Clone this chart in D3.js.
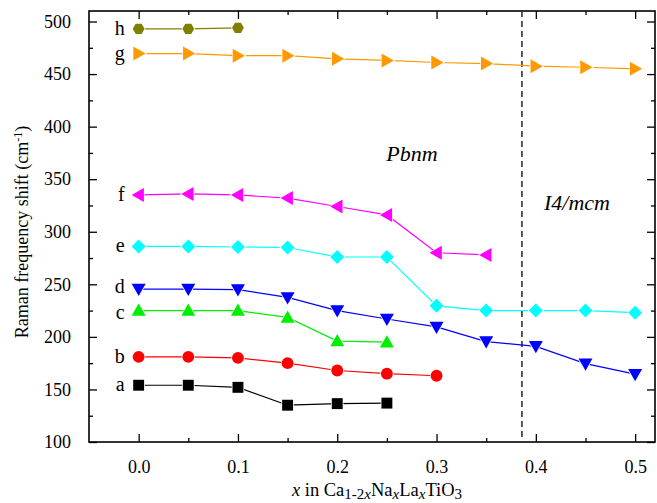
<!DOCTYPE html>
<html><head><meta charset="utf-8">
<script src="https://cdn.jsdelivr.net/npm/d3@7"></script>
<style>body{margin:0;background:#fff}svg{display:block}text{font-family:"Liberation Serif","Times New Roman",serif;fill:#000}</style>
</head><body><svg id="c" width="657" height="503"></svg>
<script>
const xs = [0, 0.05, 0.1, 0.15, 0.2, 0.25, 0.3, 0.35, 0.4, 0.45, 0.5];
const modeA = [154, 154, 152, 135, 136.5, 137];
const modeB = [181, 181, 180, 175, 168, 165, 163];
const modeC = [225, 225, 225, 218.5, 196, 195];
const modeD = [245.5, 245.5, 245, 237.5, 225, 217, 209.5, 195.5, 191, 174.5, 164.5];
const modeE = [286, 286, 285.5, 285, 276, 276, 229.5, 225, 225, 225, 223];
const modeF = [335, 336, 335, 332, 324, 316, 280, 278];
const modeG = [469.5, 469.5, 467.5, 467.5, 464.5, 463, 461, 460, 457.5, 456.5, 455];
const modeH = [493, 493, 494];
const seriesNames = ["a","b","c","d","e","f","g","h"];
const seriesValues = [modeA, modeB, modeC, modeD, modeE, modeF, modeG, modeH];
const seriesColors = ["#000000","#ff0000","#00ee00","#0000ff","#00ffff","#ff00ff","#ff9900","#808000"];
const seriesSymbols = ["square","circle","up","down","diamond","left","right","hexagon"];
const xTicks = [0, 0.1, 0.2, 0.3, 0.4, 0.5];
const yTicks = [100, 150, 200, 250, 300, 350, 400, 450, 500];
const phaseBoundary = 0.386;

const svg = d3.select("#c");
const L = 89, R = 655, T = 11, B = 442;
const x = d3.scaleLinear().domain([-0.05, 0.52]).range([L, R]);
const y = d3.scaleLinear().domain([100, 510]).range([B, T]);

svg.append("rect").attr("x", L).attr("y", T).attr("width", R - L).attr("height", B - T)
  .attr("fill", "none").attr("stroke", "#000").attr("stroke-width", 1.6);

const xMinor = d3.range(0, 0.5001, 0.05).filter(v => Math.abs(v*10 - Math.round(v*10)) > 0.01);
const yMinor = d3.range(125, 510, 50);

svg.append("g").attr("transform", `translate(0,${B})`)
  .call(d3.axisBottom(x).tickValues(xTicks).tickFormat(d3.format(".1f")).tickSize(-8).tickPadding(18));
svg.append("g").attr("transform", `translate(0,${B})`)
  .call(d3.axisBottom(x).tickValues(xMinor).tickFormat("").tickSize(-4));
svg.append("g").attr("transform", `translate(0,${T})`)
  .call(d3.axisTop(x).tickValues(xTicks).tickFormat("").tickSize(-8));
svg.append("g").attr("transform", `translate(0,${T})`)
  .call(d3.axisTop(x).tickValues(xMinor).tickFormat("").tickSize(-4));
svg.append("g").attr("transform", `translate(${L},0)`)
  .call(d3.axisLeft(y).tickValues(yTicks).tickSize(-8).tickPadding(18));
svg.append("g").attr("transform", `translate(${L},0)`)
  .call(d3.axisLeft(y).tickValues(yMinor).tickFormat("").tickSize(-4));
svg.append("g").attr("transform", `translate(${R},0)`)
  .call(d3.axisRight(y).tickValues(yTicks).tickFormat("").tickSize(-8));
svg.append("g").attr("transform", `translate(${R},0)`)
  .call(d3.axisRight(y).tickValues(yMinor).tickFormat("").tickSize(-4));

svg.selectAll(".domain").remove();
svg.selectAll("g").attr("font-family", null);
svg.selectAll(".tick line").attr("stroke", "#000").attr("stroke-width", 1.3);
svg.selectAll(".tick text").style("font-family", '"Liberation Serif",serif').style("font-size", "18px").attr("fill", "#000");

svg.append("line").attr("x1", x(phaseBoundary)).attr("x2", x(phaseBoundary))
  .attr("y1", T).attr("y2", B).attr("stroke", "#333").attr("stroke-width", 1.6)
  .attr("stroke-dasharray", "6,4");

function symPath(kind, s) {
  const h = s / 2;
  switch (kind) {
    case "square": return `M${-h*0.78},${-h*0.78}H${h*0.78}V${h*0.78}H${-h*0.78}Z`;
    case "circle": return d3.symbol(d3.symbolCircle, Math.PI * (h*0.85) * (h*0.85))();
    case "up": return `M0,${-h}L${h},${h*0.75}L${-h},${h*0.75}Z`;
    case "down": return `M0,${h}L${h},${-h*0.75}L${-h},${-h*0.75}Z`;
    case "left": return `M${-h},0L${h*0.75},${-h}L${h*0.75},${h}Z`;
    case "right": return `M${h},0L${-h*0.75},${-h}L${-h*0.75},${h}Z`;
    case "diamond": return `M0,${-h}L${h},0L0,${h}L${-h},0Z`;
    case "hexagon": {
      const r = h * 0.85;
      const pts = d3.range(6).map(i => { const a = Math.PI/3*i; return [r*Math.cos(a), r*Math.sin(a)]; });
      return "M" + pts.map(p => p.join(",")).join("L") + "Z";
    }
  }
}

const letterShift = {d: -2, c: 2};
const line = d3.line().x(d => x(d[0])).y(d => y(d[1]));
seriesValues.forEach((vals, i) => {
  const pts = vals.map((v, j) => [xs[j], v]);
  svg.append("path").attr("d", line(pts)).attr("fill", "none")
    .attr("stroke", seriesColors[i]).attr("stroke-width", 1.2);
  const g = svg.append("g");
  pts.forEach(p => {
    g.append("path").attr("d", symPath(seriesSymbols[i], 14))
      .attr("transform", `translate(${x(p[0])},${y(p[1])})`)
      .attr("fill", seriesColors[i]).attr("stroke", "#fff").attr("stroke-width", 1.5)
      .attr("paint-order", "stroke");
  });
  const nm = seriesNames[i];
  svg.append("text").attr("x", x(-0.014)).attr("y", y(vals[0]) + (letterShift[nm] || 0))
    .attr("dy", "0.3em").attr("text-anchor", "end").style("font-size", "20px")
    .text(nm);
});

svg.append("text").attr("x", 412).attr("y", 161).attr("text-anchor", "middle")
  .style("font-size", "22px").style("font-style", "italic").text("Pbnm");
svg.append("text").attr("x", 577).attr("y", 210).attr("text-anchor", "middle")
  .style("font-size", "22px").style("font-style", "italic").text("I4/mcm");

const xt = svg.append("text").attr("x", 377).attr("y", 496).attr("text-anchor", "middle").style("font-size", "18.5px");
xt.append("tspan").style("font-style", "italic").text("x");
xt.append("tspan").text(" in Ca");
xt.append("tspan").attr("dy", 3).style("font-size", "15px").text("1-2");
xt.append("tspan").style("font-size", "15px").style("font-style", "italic").text("x");
xt.append("tspan").attr("dy", -3).text("Na");
xt.append("tspan").attr("dy", 3).style("font-size", "15px").style("font-style", "italic").text("x");
xt.append("tspan").attr("dy", -3).text("La");
xt.append("tspan").attr("dy", 3).style("font-size", "15px").style("font-style", "italic").text("x");
xt.append("tspan").attr("dy", -3).text("TiO");
xt.append("tspan").attr("dy", 3).style("font-size", "15px").text("3");

const yt = svg.append("text").attr("transform", `translate(28,232) rotate(-90)`)
  .attr("text-anchor", "middle").style("font-size", "18px");
yt.append("tspan").text("Raman frequency shift (cm");
yt.append("tspan").attr("dy", -6).style("font-size", "12px").text("-1");
yt.append("tspan").attr("dy", 6).text(")");
</script></body></html>
